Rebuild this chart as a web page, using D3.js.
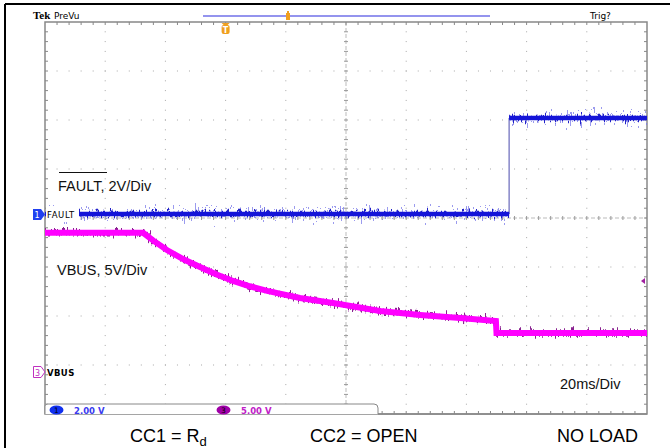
<!DOCTYPE html>
<html><head><meta charset="utf-8">
<script src="https://cdn.jsdelivr.net/npm/d3@7"></script>
<style>body{margin:0;background:#fff}svg{display:block}</style>
</head><body>
<script>
// ---- data (time in ms from left edge of screen; 20 ms/div) ----
const vbusTimeMs = [0, 32.6, 36, 40.5, 46, 51.5, 57, 62.5, 68, 73.8, 84.7, 95.7, 111.3, 124.6, 137.9, 149.8, 150.0, 200];
const vbusVolts  = [14.2, 14.2, 13.4, 12.45, 11.5, 10.71, 9.95, 9.29, 8.75, 8.27, 7.55, 7.04, 6.22, 5.82, 5.51, 5.2, 3.98, 3.98];
const faultTimeMs = [0, 154.2, 154.2, 200];
const faultVolts  = [0.04, 0.04, 3.96, 3.96];
const channelScales = ["2.00 V", "5.00 V"];
const annotations = ["FAULT, 2V/Div", "VBUS, 5V/Div", "20ms/Div"];
const footer = ["CC1 = R", "CC2 = OPEN", "NO LOAD"];

const W = 670, H = 448;
const L = 45, R = 647, T = 22, B = 414;
const divX = (R - L) / 10, divY = (B - T) / 8;

const svg = d3.select("body").append("svg").attr("width", W).attr("height", H);
const defs = svg.append("defs");
function jitter(id, freq, scale, seed) {
  const f = defs.append("filter").attr("id", id).attr("filterUnits","userSpaceOnUse")
    .attr("x",0).attr("y",0).attr("width",W).attr("height",H);
  f.append("feTurbulence").attr("type","fractalNoise").attr("baseFrequency",freq).attr("numOctaves",2).attr("seed",seed).attr("result","n0");
  const ct = f.append("feComponentTransfer").attr("in","n0").attr("result","n");
  ct.append("feFuncR").attr("type","table").attr("tableValues","0.5 0.5");
  f.append("feDisplacementMap").attr("in","SourceGraphic").attr("in2","n").attr("scale",scale).attr("xChannelSelector","R").attr("yChannelSelector","G");
}
jitter("jitF", "0.9 0.05", 34, 5);
jitter("jitF2", "0.7 0.05", 16, 2);
jitter("jitV", "0.6 0.05", 16, 9);

const x = d3.scaleLinear().domain([0, 200]).range([L, R]);
const yV = d3.scaleLinear().domain([0, 5]).range([372, 372 - divY]);     // 5 V/div, ch3 ground marker
const yF = d3.scaleLinear().domain([0, 2]).range([215, 215 - divY]);     // 2 V/div, ch1 ground marker

// outer frame lines
svg.append("line").attr("x1",5).attr("x2",W).attr("y1",4).attr("y2",4).attr("stroke","#000").attr("stroke-width",2);
svg.append("line").attr("x1",5).attr("x2",5).attr("y1",4).attr("y2",H).attr("stroke","#000").attr("stroke-width",2);

// graticule dots
const g = svg.append("g");
const dotCol = "#a8a8a8";
for (let i = 1; i < 10; i++) {
  if (i === 5) continue;
  const xx = L + i * divX;
  for (let j = 1; j < 40; j++) g.append("rect").attr("x", xx - 0.5).attr("y", T + j * divY / 5 - 0.5).attr("width",1).attr("height",1).attr("fill",dotCol);
}
for (let j = 1; j < 8; j++) {
  if (j === 4) continue;
  const yy = T + j * divY;
  for (let i = 1; i < 50; i++) g.append("rect").attr("x", L + i * divX / 5 - 0.5).attr("y", yy - 0.5).attr("width",1).attr("height",1).attr("fill",dotCol);
}
// center axes (dashed with ticks)
const cx = L + 5 * divX, cy = T + 4 * divY;
g.append("line").attr("x1",L).attr("x2",R).attr("y1",cy).attr("y2",cy).attr("stroke","#bbb").attr("stroke-dasharray","4,2");
g.append("line").attr("x1",cx).attr("x2",cx).attr("y1",T).attr("y2",B).attr("stroke","#bbb").attr("stroke-dasharray","4,2");
for (let i = 1; i < 50; i++) g.append("line").attr("x1",L + i*divX/5).attr("x2",L + i*divX/5).attr("y1",cy-2).attr("y2",cy+2).attr("stroke","#999");
for (let j = 1; j < 40; j++) g.append("line").attr("x1",cx-2).attr("x2",cx+2).attr("y1",T + j*divY/5).attr("y2",T + j*divY/5).attr("stroke","#999");

// border with ticks
g.append("rect").attr("x",L).attr("y",T).attr("width",R-L).attr("height",B-T).attr("fill","none").attr("stroke","#888").attr("stroke-width",1.5);
for (let i = 1; i < 50; i++) {
  const xx = L + i*divX/5;
  g.append("line").attr("x1",xx).attr("x2",xx).attr("y1",T).attr("y2",T+3).attr("stroke","#888");
  g.append("line").attr("x1",xx).attr("x2",xx).attr("y1",B).attr("y2",B-3).attr("stroke","#888");
}
for (let j = 1; j < 40; j++) {
  const yy = T + j*divY/5;
  g.append("line").attr("x1",L).attr("x2",L+3).attr("y1",yy).attr("y2",yy).attr("stroke","#888");
  g.append("line").attr("x1",R).attr("x2",R-3).attr("y1",yy).attr("y2",yy).attr("stroke","#888");
}

// traces
const lineV = d3.line().x((d,i)=>x(vbusTimeMs[i])).y(d=>yV(d));
const tr = svg.append("g");
// FAULT: clean fast edge + noisy flat levels
tr.append("line").attr("x1",x(faultTimeMs[1])).attr("x2",x(faultTimeMs[2])).attr("y1",yF(faultVolts[1])).attr("y2",yF(faultVolts[2])).attr("stroke","#8686c8").attr("stroke-width",1.5);
const fH = [[faultTimeMs[0], faultTimeMs[1], faultVolts[0]], [faultTimeMs[2], faultTimeMs[3], faultVolts[3]]];
fH.forEach(s => {
  tr.append("line").attr("x1",x(s[0])).attr("x2",x(s[1])).attr("y1",yF(s[2])).attr("y2",yF(s[2])).attr("stroke","#7a7ae8").attr("stroke-width",1.5).attr("filter","url(#jitF)");
  tr.append("line").attr("x1",x(s[0])).attr("x2",x(s[1])).attr("y1",yF(s[2])).attr("y2",yF(s[2])).attr("stroke","#2020c8").attr("stroke-width",2.5).attr("filter","url(#jitF2)");
  tr.append("line").attr("x1",x(s[0])).attr("x2",x(s[1])).attr("y1",yF(s[2])).attr("y2",yF(s[2])).attr("stroke","#1414d8").attr("stroke-width",4.5);
});
// VBUS
tr.append("path").attr("d", lineV(vbusVolts)).attr("fill","none").attr("stroke","#8a2090").attr("stroke-width",3.5).attr("filter","url(#jitV)");
tr.append("path").attr("d", lineV(vbusVolts)).attr("fill","none").attr("stroke","#ff00ff").attr("stroke-width",6);

// left labels with markers
svg.append("rect").attr("x",L+1).attr("y",206).attr("width",33).attr("height",16).attr("fill","#fff");
svg.append("text").attr("x",47).attr("y",218).attr("font-family","DejaVu Sans").attr("font-size",8.5).attr("letter-spacing",0.6).attr("fill","#000").text("FAULT");
svg.append("path").attr("d","M33,209 H41 L45,214.5 L41,220 H33 Z").attr("fill","#2040f0");
svg.append("text").attr("x",37).attr("y",218).attr("text-anchor","middle").attr("font-family","DejaVu Sans").attr("font-size",8).attr("fill","#fff").text("1");
svg.append("text").attr("x",47).attr("y",376).attr("font-family","DejaVu Sans").attr("font-size",8.5).attr("font-weight","bold").attr("letter-spacing",0.4).attr("fill","#000").text("VBUS");
svg.append("path").attr("d","M33.5,366.5 H41 L45,372 L41,377.5 H33.5 Z").attr("fill","#fff").attr("stroke","#c030c0");
svg.append("text").attr("x",37.5).attr("y",375.5).attr("text-anchor","middle").attr("font-family","DejaVu Sans").attr("font-size",8).attr("fill","#c030c0").text("3");
// right marker (ch3 level)
svg.append("path").attr("d","M641,281 L645,278 L645,284 Z").attr("fill","#a020a0");

// top header
svg.append("text").attr("x",33).attr("y",19).attr("font-family","Liberation Serif").attr("font-weight","bold").attr("font-size",11).attr("fill","#000").text("Tek");
svg.append("text").attr("x",54).attr("y",19).attr("font-family","DejaVu Sans").attr("font-size",9).attr("fill","#000").text("PreVu");
svg.append("text").attr("x",590).attr("y",19).attr("font-family","DejaVu Sans").attr("font-size",9).attr("fill","#000").text("Trig?");
svg.append("line").attr("x1",203).attr("x2",490).attr("y1",16).attr("y2",16).attr("stroke","#7070e8").attr("stroke-width",1.3);
svg.append("path").attr("d","M286,13 L290,13 L290,20 L286,20 Z").attr("fill","#f0a020");
svg.append("path").attr("d","M287,11 L289,11 L289,13 L287,13 Z").attr("fill","#f0a020");
// trigger T marker
const tx = x(60);
svg.append("path").attr("d",`M${tx-4},23 H${tx+4} L${tx+2},25 H${tx-2} Z`).attr("fill","#f0a020");
svg.append("rect").attr("x",tx-4).attr("y",25).attr("width",8).attr("height",9).attr("rx",2).attr("fill","#f0a020");
svg.append("text").attr("x",tx).attr("y",32.5).attr("text-anchor","middle").attr("font-family","DejaVu Sans").attr("font-weight","bold").attr("font-size",8).attr("fill","#fff").text("T");

// bottom legend box
svg.append("path").attr("d",`M${L},${B} V406 Q${L},404 ${L+3},404 H374 Q378,404 378,408 V${B}`).attr("fill","#fff").attr("stroke","#888");
svg.append("line").attr("x1",378).attr("x2",R).attr("y1",B).attr("y2",B).attr("stroke","#888").attr("stroke-width",1.5);
svg.append("ellipse").attr("cx",56.5).attr("cy",410).attr("rx",7).attr("ry",4.5).attr("fill","#1030f0");
svg.append("text").attr("x",56.5).attr("y",413).attr("text-anchor","middle").attr("font-family","DejaVu Sans").attr("font-size",7.5).attr("fill","#000").text("1");
svg.append("text").attr("x",74).attr("y",413.5).attr("font-family","DejaVu Sans").attr("font-weight","bold").attr("font-size",8.5).attr("fill","#3a3af0").text(channelScales[0]);
svg.append("ellipse").attr("cx",223.5).attr("cy",410).attr("rx",7).attr("ry",4.5).attr("fill","#a000a8");
svg.append("text").attr("x",223.5).attr("y",413).attr("text-anchor","middle").attr("font-family","DejaVu Sans").attr("font-size",7.5).attr("fill","#000").text("3");
svg.append("text").attr("x",241).attr("y",413.5).attr("font-family","DejaVu Sans").attr("font-weight","bold").attr("font-size",8.5).attr("fill","#c020c8").text(channelScales[1]);

// annotations
svg.append("text").attr("x",58).attr("y",191).attr("font-family","Liberation Sans").attr("font-size",14.5).attr("fill","#111").text(annotations[0]);
svg.append("line").attr("x1",59).attr("x2",107).attr("y1",172.5).attr("y2",172.5).attr("stroke","#111").attr("stroke-width",1.2);
svg.append("text").attr("x",57).attr("y",275).attr("font-family","Liberation Sans").attr("font-size",14.5).attr("fill","#111").text(annotations[1]);
svg.append("text").attr("x",560).attr("y",389).attr("font-family","Liberation Sans").attr("font-size",14.5).attr("fill","#111").text(annotations[2]);

// footer
const ft = svg.append("text").attr("x",130).attr("y",442).attr("font-family","Liberation Sans").attr("font-size",18).attr("fill","#000");
ft.append("tspan").text(footer[0]);
ft.append("tspan").attr("font-size",13).attr("dy",4).text("d");
svg.append("text").attr("x",310).attr("y",442).attr("font-family","Liberation Sans").attr("font-size",18).attr("fill","#000").text(footer[1]);
svg.append("text").attr("x",557).attr("y",442).attr("font-family","Liberation Sans").attr("font-size",18).attr("fill","#000").text(footer[2]);
</script>
</body></html>
